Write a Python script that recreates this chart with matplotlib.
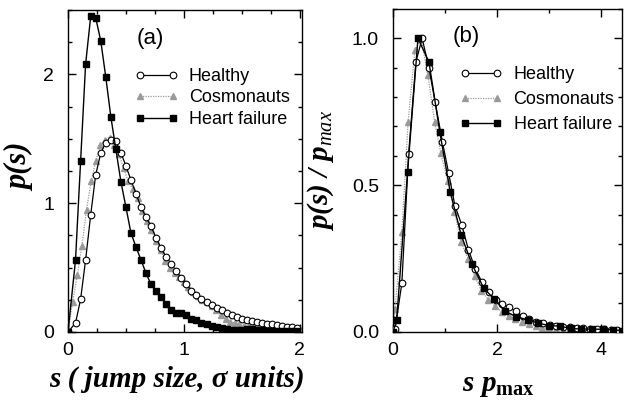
import matplotlib
matplotlib.use("Agg")
import matplotlib.pyplot as plt
from matplotlib.ticker import MultipleLocator

plt.rcParams['font.family'] = ['Liberation Sans', 'DejaVu Sans']
plt.rcParams['mathtext.fontset'] = 'custom'
plt.rcParams['mathtext.it'] = 'Liberation Serif:italic:bold'
plt.rcParams['mathtext.rm'] = 'Liberation Serif:italic:bold'
plt.rcParams['mathtext.bf'] = 'Liberation Serif:bold'
plt.rcParams['mathtext.sf'] = 'Liberation Serif:italic'

# ---------------- Panel (a) data ----------------
healthy_s = [0.0, 0.065, 0.109, 0.152, 0.196, 0.239, 0.283, 0.326, 0.370, 0.413, 0.457,
             0.500, 0.543, 0.587, 0.630, 0.674, 0.717, 0.761, 0.804, 0.848, 0.891, 0.935,
             0.978, 1.022, 1.065, 1.109, 1.152, 1.196, 1.239, 1.283, 1.326, 1.370, 1.413,
             1.457, 1.500, 1.543, 1.587, 1.630, 1.674, 1.717, 1.761, 1.804, 1.848, 1.891,
             1.935, 1.978]
healthy_p = [0.0, 0.07, 0.255, 0.56, 0.91, 1.22, 1.39, 1.47, 1.49, 1.48, 1.39,
             1.29, 1.18, 1.075, 0.97, 0.89, 0.82, 0.73, 0.65, 0.58, 0.53, 0.47,
             0.42, 0.37, 0.32, 0.29, 0.26, 0.23, 0.21, 0.19, 0.17, 0.15, 0.13,
             0.115, 0.10, 0.09, 0.085, 0.075, 0.07, 0.065, 0.06, 0.055, 0.05, 0.04,
             0.035, 0.03]

cosmo_s = [0.0, 0.04, 0.08, 0.12, 0.16, 0.20, 0.24, 0.28, 0.32, 0.36, 0.40, 0.44, 0.48,
           0.52, 0.56, 0.60, 0.64, 0.68, 0.72, 0.76, 0.80, 0.84, 0.88, 0.92, 0.96, 1.00,
           1.04, 1.08, 1.12, 1.16, 1.20, 1.24, 1.28, 1.32, 1.36, 1.40, 1.44, 1.48, 1.52,
           1.56, 1.60, 1.64, 1.68, 1.72, 1.76, 1.80, 1.84, 1.88, 1.92, 1.96, 2.0]
cosmo_p = [0.0, 0.235, 0.44, 0.67, 0.95, 1.17, 1.33, 1.45, 1.49, 1.51, 1.45, 1.38, 1.27,
           1.17, 1.11, 1.04, 0.94, 0.86, 0.79, 0.71, 0.64, 0.55, 0.50, 0.46, 0.43, 0.39,
           0.35, 0.31, 0.28, 0.25, 0.23, 0.20, 0.17, 0.13, 0.10, 0.08, 0.07, 0.06, 0.05,
           0.045, 0.04, 0.035, 0.03, 0.03, 0.025, 0.025, 0.02, 0.02, 0.02, 0.015, 0.015]

hf_s = healthy_s
hf_p = [0.0, 0.56, 1.33, 2.08, 2.45, 2.44, 2.26, 1.98, 1.67, 1.42, 1.165,
        0.97, 0.77, 0.66, 0.56, 0.455, 0.37, 0.32, 0.27, 0.22, 0.17, 0.15,
        0.147, 0.13, 0.10, 0.09, 0.07, 0.06, 0.05, 0.04, 0.03, 0.02, 0.012,
        0.012, 0.015, 0.02, 0.02, 0.015, 0.012, 0.01, 0.01, 0.01, 0.008, 0.008,
        0.006, 0.005]

# ---------------- Panel (b) data ----------------
healthy_x = [0.0, 0.04, 0.17, 0.30, 0.44, 0.56, 0.69, 0.81, 0.95, 1.07, 1.19, 1.32, 1.45,
             1.58, 1.71, 1.84, 1.97, 2.10, 2.23, 2.36, 2.49, 2.62, 2.75, 2.88, 3.01, 3.14,
             3.27, 3.40, 3.53, 3.66, 3.79, 3.92, 4.05, 4.18, 4.31, 4.44]
healthy_y = [0.0, 0.01, 0.166, 0.605, 0.92, 1.0, 0.90, 0.783, 0.647, 0.54, 0.43, 0.365,
             0.28, 0.215, 0.17, 0.135, 0.11, 0.095, 0.085, 0.07, 0.055, 0.045, 0.035, 0.03,
             0.025, 0.02, 0.018, 0.016, 0.014, 0.012, 0.011, 0.01, 0.009, 0.008, 0.007, 0.006]

cosmo_x = [0.0, 0.04, 0.17, 0.29, 0.42, 0.54, 0.67, 0.80, 0.92, 1.05, 1.18, 1.31, 1.44,
           1.57, 1.70, 1.83, 1.96, 2.09, 2.22, 2.35, 2.48, 2.61, 2.74, 2.87, 3.00, 3.13,
           3.26, 3.39, 3.52, 3.65, 3.78, 3.91, 4.04, 4.17, 4.30, 4.43]
cosmo_y = [0.0, 0.08, 0.34, 0.715, 0.96, 1.0, 0.875, 0.715, 0.608, 0.515, 0.41, 0.305,
           0.25, 0.19, 0.14, 0.11, 0.088, 0.068, 0.055, 0.045, 0.035, 0.028, 0.02, 0.015,
           0.012, 0.01, 0.008, 0.007, 0.006, 0.005, 0.005, 0.004, 0.004, 0.004, 0.003, 0.003]

hf_x = [0.0, 0.07, 0.28, 0.48, 0.69, 0.90, 1.10, 1.31, 1.52, 1.74, 1.95, 2.16, 2.37, 2.60,
        2.79, 3.00, 3.20, 3.42, 3.62, 3.83, 4.04, 4.23, 4.40]
hf_y = [0.0, 0.04, 0.545, 1.0, 0.92, 0.68, 0.477, 0.33, 0.23, 0.15, 0.111, 0.07, 0.052,
        0.041, 0.03, 0.022, 0.02, 0.012, 0.01, 0.01, 0.009, 0.007, 0.005]

labels = ['Healthy', 'Cosmonauts', 'Heart failure']
gray = '#9a9a9a'

fig = plt.figure(figsize=(6.26, 4.03), dpi=100)
ax1 = fig.add_axes([68/626, 71/403, 234/626, 322/403])
ax2 = fig.add_axes([393/626, 71/403, 229/626, 323/403])


def draw(ax, hx, hy, cx, cy, fx, fy):
    lc, = ax.plot(cx, cy, linestyle=(0, (1, 1)), color=gray, lw=0.9, marker='^',
                  markersize=5.0, markerfacecolor=gray, markeredgecolor=gray, zorder=2)
    lh, = ax.plot(hx, hy, '-', color='black', lw=0.9, marker='o', markersize=4.8,
                  markerfacecolor='white', markeredgecolor='black', markeredgewidth=0.8, zorder=3)
    lf, = ax.plot(fx, fy, '-', color='black', lw=1.0, marker='s', markersize=4.0,
                  markerfacecolor='black', markeredgecolor='black', zorder=4)
    return [lh, lc, lf]


def style(ax):
    ax.tick_params(which='both', direction='in', top=True, right=True,
                   labelsize=14, width=1.0)
    ax.tick_params(which='major', length=6)
    ax.tick_params(which='minor', length=3)
    ax.tick_params(axis='y', pad=10)
    ax.tick_params(axis='x', pad=7)
    for sp in ax.spines.values():
        sp.set_linewidth(1.0)


h = draw(ax1, healthy_s, healthy_p, cosmo_s, cosmo_p, hf_s, hf_p)
style(ax1)
ax1.set_xlim(0, 2.02)
ax1.set_ylim(0, 2.5)
ax1.xaxis.set_major_locator(MultipleLocator(1))
ax1.xaxis.set_minor_locator(MultipleLocator(0.25))
ax1.yaxis.set_major_locator(MultipleLocator(1))
ax1.yaxis.set_minor_locator(MultipleLocator(0.25))
ax1.text(0.35, 0.912, '(a)', transform=ax1.transAxes, fontsize=16, ha='center', va='center')
ax1.legend(h, labels, loc='upper left', bbox_to_anchor=(0.285, 0.82), frameon=False,
           fontsize=13, handlelength=2.4, handletextpad=0.6, labelspacing=0.25,
           borderpad=0, borderaxespad=0, numpoints=2)
ax1.set_xlabel('s ( jump size, σ units)', fontfamily='Liberation Serif', fontweight='bold',
               fontstyle='italic', fontsize=21)
ax1.xaxis.set_label_coords(0.466, -0.105)
ax1.set_ylabel('p(s)', fontfamily='Liberation Serif', fontweight='bold',
               fontstyle='italic', fontsize=22)
ax1.yaxis.set_label_coords(-0.14, 0.51)

h2 = draw(ax2, healthy_x, healthy_y, cosmo_x, cosmo_y, hf_x, hf_y)
style(ax2)
ax2.set_xlim(0, 4.4)
ax2.set_ylim(0, 1.1)
ax2.xaxis.set_major_locator(MultipleLocator(2))
ax2.xaxis.set_minor_locator(MultipleLocator(1))
ax2.yaxis.set_major_locator(MultipleLocator(0.5))
ax2.yaxis.set_minor_locator(MultipleLocator(0.1))
ax2.yaxis.set_major_formatter(matplotlib.ticker.FormatStrFormatter('%.1f'))
ax2.text(0.32, 0.915, '(b)', transform=ax2.transAxes, fontsize=16, ha='center', va='center')
ax2.legend(h2, labels, loc='upper left', bbox_to_anchor=(0.29, 0.823), frameon=False,
           fontsize=13, handlelength=2.4, handletextpad=0.6, labelspacing=0.45,
           borderpad=0, borderaxespad=0, numpoints=2)
ax2.set_xlabel(r'$s\ p_{\mathbf{max}}$', fontsize=21)
ax2.xaxis.set_label_coords(0.46, -0.12)
ax2.set_ylabel(r'$p(s)\ /\ p_{\mathsf{max}}$', fontsize=21)
ax2.yaxis.set_label_coords(-0.25, 0.5)

fig.savefig('out.png', dpi=100)
